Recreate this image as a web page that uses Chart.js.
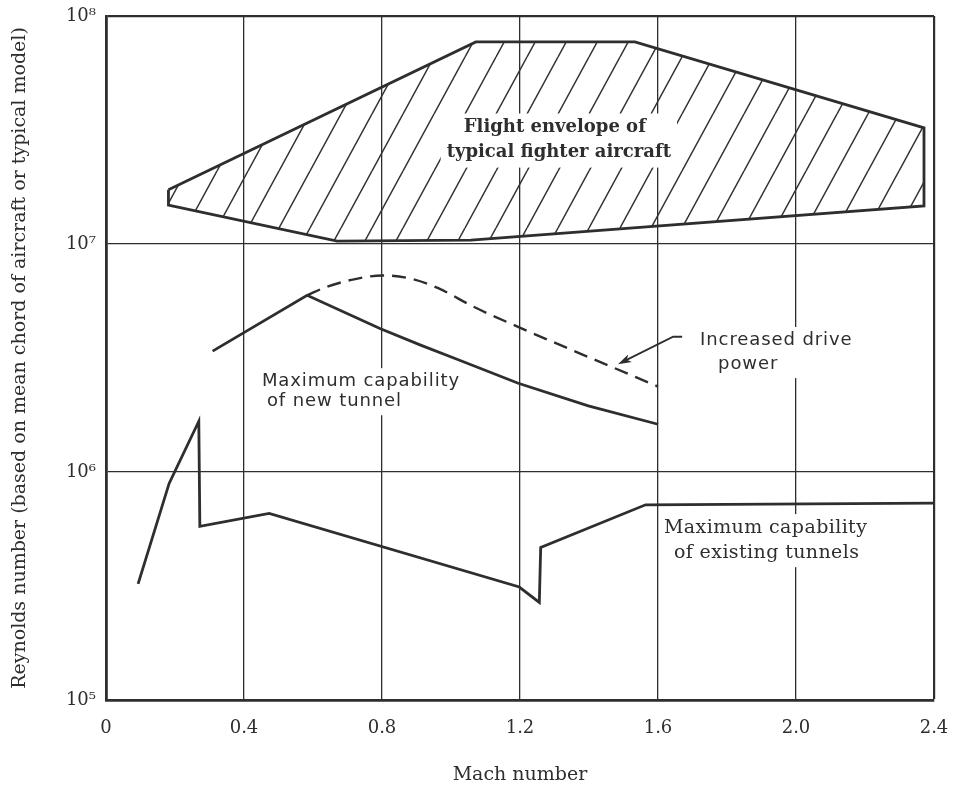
<!DOCTYPE html>
<html>
<head>
<meta charset="utf-8">
<title>Reynolds number vs Mach number</title>
<script src="https://cdn.jsdelivr.net/npm/chart.js@4.4.1/dist/chart.umd.min.js"></script>
<style>
  body { margin: 0; background: #fff; }
  #wrap { width: 955px; height: 788px; }
</style>
</head>
<body>
<div id="wrap"><canvas id="grafico" width="955" height="788"></canvas></div>
<script>
// values (Mach number / Reynolds number)
const machTicks = [0, 0.4, 0.8, 1.2, 1.6, 2.0, 2.4];
const reTicks = [1e5, 1e6, 1e7, 1e8];
const reTickLabels = ["10⁵", "10⁶", "10⁷", "10⁸"];

// flight envelope of typical fighter aircraft (closed outline)
const envelopeMach = [0.181, 1.072, 1.533, 2.371, 2.371, 1.058, 0.67, 0.181, 0.181];
const envelopeRe = [1.73e7, 7.7e7, 7.7e7, 3.23e7, 1.47e7, 1.04e7, 1.03e7, 1.48e7, 1.73e7];

// maximum capability of new tunnel
const newTunnelMach = [0.309, 0.583, 0.794, 0.912, 1.023, 1.195, 1.398, 1.6];
const newTunnelRe = [3.39e6, 5.96e6, 4.26e6, 3.6e6, 3.1e6, 2.45e6, 1.95e6, 1.62e6];

// increased drive power (dashed)
const drivePowerMach = [0.583, 0.638, 0.719, 0.801, 0.882, 0.963, 1.065, 1.196, 1.399, 1.6];
const drivePowerRe = [5.96e6, 6.47e6, 7.0e6, 7.28e6, 7.05e6, 6.4e6, 5.31e6, 4.32e6, 3.19e6, 2.37e6];

// maximum capability of existing tunnels
const existingMach = [0.093, 0.183, 0.269, 0.272, 0.473, 1.198, 1.256, 1.26, 1.564, 2.4];
const existingRe = [3.23e5, 8.91e5, 1.67e6, 5.78e5, 6.58e5, 3.13e5, 2.68e5, 4.67e5, 7.18e5, 7.31e5];

const ink = "#2e2e2e";
const serif = "'DejaVu Serif', 'Liberation Serif', serif";
const sans = "'DejaVu Sans', 'Liberation Sans', sans-serif";

// text written on the chart, anchored in data units
const notes = [
  {
    lines: ["Flight envelope of", "typical fighter aircraft"],
    mach: 1.301, re: 3.24e7, align: "center", indent: [0, 4],
    font: "bold 18px " + serif, size: 18, gap: 25, pad: 6, spacing: "0px", onTop: true,
  },
  {
    lines: ["Increased drive", "power"],
    mach: 1.722, re: 3.79e6, align: "left", indent: [0, 18],
    font: "18px " + sans, size: 18, gap: 24, pad: 5, spacing: "0.9px", onTop: false,
  },
  {
    lines: ["Maximum capability", "of new tunnel"],
    mach: 0.452, re: 2.5e6, align: "left", indent: [0, 5],
    font: "18px " + sans, size: 18, gap: 20, pad: 5, spacing: "0.9px", onTop: false,
  },
  {
    lines: ["Maximum capability", "of existing tunnels"],
    mach: 1.912, re: 5.7e5, align: "center", indent: [0, 1],
    font: "19px " + serif, size: 19, gap: 25, pad: 5, spacing: "0.4px", onTop: false,
  },
];

const arrowTail = { mach: 1.67, re: 3.92e6 };
const arrowTip = { mach: 1.484, re: 2.97e6 };

function pairs(xs, ys) {
  return xs.map((v, i) => ({ x: v, y: ys[i] }));
}

function makeHatch() {
  const tile = document.createElement("canvas");
  tile.width = 31;
  tile.height = 57;
  const t = tile.getContext("2d");
  t.strokeStyle = "#333";
  t.lineWidth = 1.5;
  t.beginPath();
  for (let k = -1; k <= 1; k++) {
    t.moveTo(k * 31, 57);
    t.lineTo(k * 31 + 31, 0);
  }
  t.stroke();
  return t.createPattern(tile, "repeat");
}

function drawNotes(chart, onTop) {
  const { ctx, scales } = chart;
  notes
    .filter((n) => n.onTop === onTop)
    .forEach((n) => {
      const px = scales.x.getPixelForValue(n.mach);
      const py = scales.y.getPixelForValue(n.re);
      ctx.save();
      ctx.font = n.font;
      ctx.letterSpacing = n.spacing;
      ctx.textBaseline = "middle";
      ctx.textAlign = n.align;

      // white box so grid lines / hatching stop around the text
      let left = Infinity;
      let right = -Infinity;
      n.lines.forEach((line, i) => {
        const w = ctx.measureText(line).width;
        const lx = px + n.indent[i];
        const l = n.align === "center" ? lx - w / 2 : lx;
        left = Math.min(left, l);
        right = Math.max(right, l + w);
      });
      const top = py - n.size * 0.45 - n.pad;
      const bottom = py + (n.lines.length - 1) * n.gap + n.size * 0.5 + n.pad;
      ctx.fillStyle = "#fff";
      ctx.fillRect(left - n.pad, top, right - left + 2 * n.pad, bottom - top);

      ctx.fillStyle = ink;
      n.lines.forEach((line, i) => {
        ctx.fillText(line, px + n.indent[i], py + i * n.gap);
      });
      ctx.restore();
    });
}

function drawArrow(chart) {
  const { ctx, scales } = chart;
  const tx = scales.x.getPixelForValue(arrowTail.mach);
  const ty = scales.y.getPixelForValue(arrowTail.re);
  const hx = scales.x.getPixelForValue(arrowTip.mach);
  const hy = scales.y.getPixelForValue(arrowTip.re);
  const kx = tx - 9;
  const ang = Math.atan2(hy - ty, hx - kx);

  ctx.save();
  ctx.strokeStyle = ink;
  ctx.fillStyle = ink;
  ctx.lineWidth = 1.8;
  ctx.beginPath();
  ctx.moveTo(tx, ty);
  ctx.lineTo(kx, ty);
  ctx.lineTo(hx - Math.cos(ang) * 8, hy - Math.sin(ang) * 8);
  ctx.stroke();

  ctx.beginPath();
  ctx.moveTo(hx, hy);
  ctx.lineTo(hx - Math.cos(ang - 0.3) * 14, hy - Math.sin(ang - 0.3) * 14);
  ctx.lineTo(hx - Math.cos(ang) * 10, hy - Math.sin(ang) * 10);
  ctx.lineTo(hx - Math.cos(ang + 0.3) * 14, hy - Math.sin(ang + 0.3) * 14);
  ctx.closePath();
  ctx.fill();
  ctx.restore();
}

const notesPlugin = {
  id: "notes",
  beforeDatasetsDraw(chart) {
    drawNotes(chart, false);
  },
  afterDatasetsDraw(chart) {
    drawNotes(chart, true);
    drawArrow(chart);
  },
};

const hatch = makeHatch();

new Chart(document.getElementById("grafico"), {
  type: "scatter",
  data: {
    datasets: [
      {
        label: "Flight envelope of typical fighter aircraft",
        data: pairs(envelopeMach, envelopeRe),
        showLine: true,
        fill: "shape",
        backgroundColor: hatch,
        borderColor: ink,
        borderWidth: 2.8,
        pointRadius: 0,
      },
      {
        label: "Maximum capability of new tunnel",
        data: pairs(newTunnelMach, newTunnelRe),
        showLine: true,
        borderColor: ink,
        borderWidth: 2.8,
        pointRadius: 0,
      },
      {
        label: "Increased drive power",
        data: pairs(drivePowerMach, drivePowerRe),
        showLine: true,
        borderColor: ink,
        borderWidth: 2.4,
        borderDash: [14, 8],
        cubicInterpolationMode: "monotone",
        pointRadius: 0,
      },
      {
        label: "Maximum capability of existing tunnels",
        data: pairs(existingMach, existingRe),
        showLine: true,
        borderColor: ink,
        borderWidth: 2.8,
        pointRadius: 0,
      },
    ],
  },
  options: {
    responsive: false,
    animation: false,
    layout: { padding: { top: 16, right: 21, bottom: 0, left: 0 } },
    plugins: {
      legend: { display: false },
      tooltip: { enabled: false },
    },
    scales: {
      x: {
        type: "linear",
        min: 0,
        max: 2.4,
        afterBuildTicks: (axis) => {
          axis.ticks = machTicks.map((v) => ({ value: v }));
        },
        afterFit: (axis) => {
          // fixed box so the plot frame lands where the figure has it
          axis.height = 88;
          axis.paddingLeft = 0;
          axis.paddingRight = 0;
        },
        ticks: {
          padding: 18,
          color: ink,
          font: { family: serif, size: 18 },
          callback: (v) => (v === 0 ? "0" : v.toFixed(1)),
        },
        grid: {
          color: ink,
          lineWidth: (ctx) => (ctx.tick && ctx.tick.value === 2.4 ? 2.2 : 1.3),
          drawTicks: false,
        },
        border: { color: ink, width: 2.8 },
        title: {
          display: true,
          text: "Mach number",
          color: ink,
          font: { family: serif, size: 19 },
          padding: { top: 0, bottom: 2 },
        },
      },
      y: {
        type: "logarithmic",
        min: 1e5,
        max: 1e8,
        afterBuildTicks: (axis) => {
          axis.ticks = reTicks.map((v) => ({ value: v }));
        },
        afterFit: (axis) => {
          axis.width = 106;
          axis.paddingTop = 0;
          axis.paddingBottom = 0;
        },
        ticks: {
          padding: 10,
          color: ink,
          font: { family: serif, size: 18 },
          callback: (v, i) => reTickLabels[i],
        },
        grid: {
          color: ink,
          lineWidth: (ctx) => (ctx.tick && ctx.tick.value === 1e8 ? 2.2 : 1.3),
          drawTicks: false,
        },
        border: { color: ink, width: 2.8 },
        title: {
          display: true,
          text: "Reynolds number (based on mean chord of aircraft or typical model)",
          color: ink,
          font: { family: serif, size: 19 },
          padding: { top: 9, bottom: 0 },
        },
      },
    },
  },
  plugins: [notesPlugin],
});
</script>
</body>
</html>
